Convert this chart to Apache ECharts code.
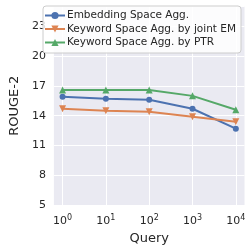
<!DOCTYPE html>
<html><head><meta charset="utf-8">
<script src="https://cdn.jsdelivr.net/npm/echarts@6/dist/echarts.min.js"></script>
<style>html,body{margin:0;padding:0;background:#fff}#c{width:251px;height:250px}</style>
</head><body><div id="c"></div>
<script>
var queryExp = [0, 1, 2, 3, 4];
var seriesNames = ['Embedding Space Agg.', 'Keyword Space Agg. by joint EM', 'Keyword Space Agg. by PTR'];
var embedding = [15.9, 15.7, 15.6, 14.7, 12.7];
var jointEM = [14.7, 14.5, 14.4, 13.9, 13.4];
var ptr = [16.6, 16.6, 16.6, 16.0, 14.6];
var yTicks = [5, 8, 11, 14, 17, 20, 23];
var colors = ['#4c72b0', '#dd8452', '#55a868'];
var symbols = ['circle', 'path://M0,0 L10,0 L5,9 Z', 'triangle'];
var values = [embedding, jointEM, ptr];

var font = 'DejaVu Sans';
var chart = echarts.init(document.getElementById('c'), null, {renderer: 'canvas'});
chart.setOption({
  animation: false,
  textStyle: {fontFamily: font},
  grid: {left: 43, right: 6.5, top: 6.5, bottom: 41.5, show: true, backgroundColor: '#eaeaf2', borderWidth: 0},
  legend: {
    orient: 'vertical', left: 43, top: 6, itemGap: 2.5, itemWidth: 20, itemHeight: 9,
    padding: [4, 5, 5, 1],
    backgroundColor: 'rgba(255,255,255,0.85)', borderColor: '#cccccc', borderWidth: 1, borderRadius: 3,
    textStyle: {fontFamily: font, fontSize: 10.5, color: '#262626', padding: [0, 0, 0, -3]},
    data: seriesNames
  },
  xAxis: {
    type: 'value', min: -0.2, max: 4.2,
    name: 'Query', nameLocation: 'middle', nameGap: 24,
    nameTextStyle: {fontFamily: font, fontSize: 13, color: '#262626'},
    axisLine: {show: false}, axisTick: {show: false, customValues: queryExp},
    splitLine: {show: true, lineStyle: {color: '#ffffff', width: 1}},
    axisLabel: {
      customValues: queryExp, margin: 9, color: '#262626', fontFamily: font,
      formatter: function (v) { return '{b|10}{s|' + Math.round(v) + '}'; },
      rich: {
        b: {fontSize: 11, fontFamily: font, color: '#262626', verticalAlign: 'bottom'},
        s: {fontSize: 8, fontFamily: font, color: '#262626', verticalAlign: 'top', padding: [0, 0, 5, 0]}
      }
    }
  },
  yAxis: {
    type: 'value', min: 5, max: 25, interval: 3,
    name: 'ROUGE-2', nameLocation: 'middle', nameGap: 28, nameRotate: 90,
    nameTextStyle: {fontFamily: font, fontSize: 13, color: '#262626'},
    axisLine: {show: false}, axisTick: {show: false},
    splitLine: {show: true, lineStyle: {color: '#ffffff', width: 1}},
    axisLabel: {
      margin: 8, fontSize: 11, color: '#262626', fontFamily: font,
      showMaxLabel: false,
      formatter: function (v) { return yTicks.indexOf(v) >= 0 ? String(v) : ''; }
    }
  },
  series: values.map(function (vals, i) {
    return {
      name: seriesNames[i], type: 'line',
      data: queryExp.map(function (x, j) { return [x, vals[j]]; }),
      symbol: symbols[i], symbolSize: i === 0 ? 6 : 7, showSymbol: true,
      lineStyle: {color: colors[i], width: 2},
      itemStyle: {color: colors[i]}, z: 3 + i
    };
  })
});
</script></body></html>
